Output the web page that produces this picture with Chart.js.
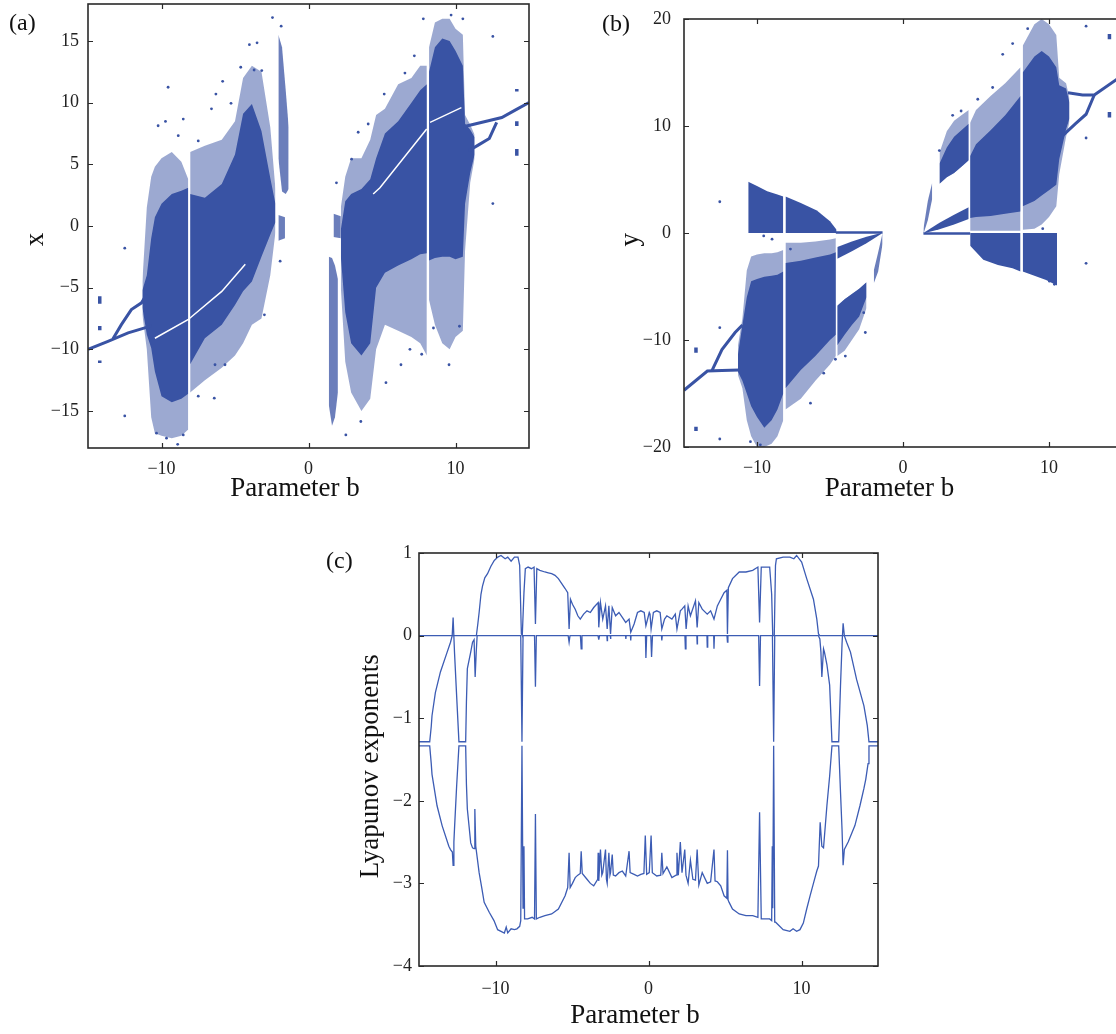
<!DOCTYPE html>
<html>
<head>
<meta charset="utf-8">
<script src="https://cdn.jsdelivr.net/npm/chart.js@4.4.0/dist/chart.umd.min.js"></script>
<style>
  html, body { margin: 0; padding: 0; background: #fff; overflow: hidden; width: 1116px; height: 1034px; }
  canvas { position: absolute; }
  .tag { position: absolute; font: 24px 'Liberation Serif', serif; line-height: 24px; color: #111; }
</style>
</head>
<body>
<canvas id="ca" width="540" height="510" style="left:0;top:0"></canvas>
<canvas id="cb" width="540" height="510" style="left:590px;top:0"></canvas>
<canvas id="cc" width="570" height="514" style="left:320px;top:520px"></canvas>
<div class="tag" style="left:9px;top:10px">(a)</div>
<div class="tag" style="left:602px;top:11px">(b)</div>
<div class="tag" style="left:326px;top:548px">(c)</div>
<script>
// tick labels
const xTicks = [-10, 0, 10];
const aYTicks = [-15, -10, -5, 0, 5, 10, 15];
const bYTicks = [-20, -10, 0, 10, 20];
const cYTicks = [-4, -3, -2, -1, 0, 1];

// ---- (a) x vs b : envelopes of the chaotic clouds (dense core / sparse halo)
const aL1B    = [-11.3, -11.0, -10.7, -10.45, -10.0, -9.3, -8.65, -8.18];
const aL1Top  = [-5.2, -4.0, -1.0, 0.7, 1.8, 2.6, 2.85, 3.1];
const aL1Bot  = [-6.6, -8.8, -9.9, -11.8, -13.8, -14.3, -14.0, -13.6];
const aL1HTop = [-4.5, 1.5, 4.0, 4.8, 5.5, 6.0, 5.2, 3.8];
const aL1HBot = [-7.2, -10.0, -15.5, -16.8, -17.0, -17.2, -17.0, -16.5];

const aL2B    = [-8.05, -7.05, -5.9, -5.0, -4.45, -3.85, -3.2, -2.6, -2.25];
const aL2Top  = [2.6, 2.3, 3.4, 5.8, 9.1, 9.9, 7.7, 3.9, 1.8];
const aL2Bot  = [-11.2, -9.1, -8.0, -6.4, -5.3, -4.5, -2.5, -0.7, 0.3];
const aL2HTop = [6.0, 6.5, 7.0, 8.5, 12.0, 13.0, 12.5, 8.0, 3.0];
const aL2HBot = [-13.5, -12.5, -11.5, -10.5, -9.5, -8.0, -7.5, -4.0, -0.5];

const aR1B    = [2.2, 2.5, 2.9, 3.6, 4.2, 4.6, 5.2, 6.1, 7.0, 7.6, 8.05];
const aR1Top  = [-0.3, 2.0, 2.6, 3.0, 3.8, 5.5, 7.5, 8.5, 10.0, 11.0, 11.5];
const aR1Bot  = [-2.5, -7.0, -9.5, -10.5, -9.5, -5.0, -3.8, -3.2, -2.7, -2.3, -2.2];
const aR1HTop = [1.5, 4.0, 5.5, 5.5, 7.0, 9.0, 9.5, 11.5, 12.0, 13.0, 13.0];
const aR1HBot = [-5.0, -11.0, -13.5, -15.0, -14.0, -10.0, -8.0, -8.5, -9.0, -9.5, -10.5];

const aR2B    = [8.2, 8.6, 9.1, 9.6, 10.0, 10.5, 10.65, 11.0, 11.3];
const aR2Top  = [12.5, 14.5, 15.2, 15.0, 14.2, 13.0, 8.3, 7.8, 7.2];
const aR2Bot  = [-2.8, -2.6, -2.5, -2.5, -2.7, -2.5, 1.8, 4.3, 5.8];
const aR2HTop = [14.5, 16.5, 16.8, 16.8, 16.0, 15.5, 9.0, 8.2, 7.4];
const aR2HBot = [-6.0, -8.0, -9.5, -10.0, -9.0, -8.5, -2.0, 3.5, 5.5];

const aStripLB = [-2.05, -1.8, -1.55, -1.35];
const aStripLTop = [15.5, 14.5, 11.0, 8.0];
const aStripLBot = [5.5, 2.8, 2.6, 3.0];
const aBlobLB = [-2.05, -1.6];
const aBlobLTop = [0.9, 0.7];
const aBlobLBot = [-1.2, -1.0];
const aStripRB = [1.38, 1.6, 1.8, 2.0];
const aStripRTop = [-2.5, -2.6, -3.2, -4.3];
const aStripRBot = [-14.5, -16.2, -15.5, -13.5];
const aBlobRB = [1.7, 2.2];
const aBlobRTop = [1.0, 0.8];
const aBlobRBot = [-0.9, -1.0];

// periodic branches
const aLineLB = [-15, -13.64, -12.27, -10.68];
const aLineLX = [-10.0, -9.35, -8.67, -8.1];
const aBrLB = [-13.3, -12.73, -12.05, -11.36, -11.02];
const aBrLX = [-9.15, -8.0, -6.78, -6.23, -5.56];
const aLineRB = [10.54, 12.24, 13.15, 14.06, 15.0];
const aLineRX = [8.05, 8.54, 8.8, 9.4, 10.0];
const aBrRB = [10.9, 11.6, 12.3, 12.8];
const aBrRX = [6.1, 6.6, 7.1, 8.4];
// thin empty diagonals inside the clouds
const aGapLB = [-10.45, -8.2, -5.9, -4.3];
const aGapLX = [-9.1, -7.6, -5.3, -3.1];
const aGapRB = [4.4, 4.86, 8.04];
const aGapRX = [2.6, 3.1, 7.86];
const aGapR2B = [8.27, 10.4];
const aGapR2X = [8.4, 9.6];
// short isolated clusters
const aIsoB = [-14.2, -14.2, -14.2, 14.17, 14.17, 14.17];
const aIsoTop = [-5.7, -8.1, -10.9, 11.1, 8.5, 6.25];
const aIsoBot = [-6.3, -8.45, -11.1, 10.9, 8.1, 5.7];
// scattered single points
const aOutB = [-12.5, -12.5, -10.23, -9.55, -9.73, -8.52, -8.86, -7.5, -6.6, -6.3, -5.84, -5.27, -4.61, -4.02, -3.5, -3.7, -3.18, -2.45, -1.86, -1.93, -3.0, -6.36, -5.68, -7.5, -6.41, -8.9, -9.66, -10.34, -8.52,
  7.81, 10.5, 9.7, 12.54, 7.2, 5.15, 3.38, 2.93, 1.9, 2.42, 2.54, 3.56, 5.27, 6.29, 6.9, 7.7, 9.56, 10.27, 8.5, 12.54, 4.06, 6.56];
const aOutX = [-1.8, -15.4, 8.13, 11.25, 8.48, 8.67, 7.32, 6.9, 9.5, 10.7, 11.73, 9.95, 12.87, 14.7, 14.85, 12.65, 12.6, 16.9, 16.2, -2.85, -7.2, -11.25, -11.25, -13.8, -13.96, -17.7, -17.2, -16.8, -16.94,
  16.8, 16.8, 17.1, 15.37, 13.8, 10.7, 7.6, 5.42, 3.5, -3.66, -16.94, -15.85, -12.7, -11.25, -10.0, -10.4, -11.25, -8.13, -8.27, 1.82, 8.27, 12.4];

// ---- (b) y vs b
const bUL1B = [-10.6, -10.0, -9.3, -8.6, -8.2];
const bUL1Top = [4.8, 4.4, 3.9, 3.6, 3.4];
const bUL1Bot = [0, 0, 0, 0, 0];
const bUL2B = [-8.05, -7.0, -5.9, -5.0, -4.55];
const bUL2Top = [3.4, 2.8, 2.1, 1.1, 0.3];
const bUL2Bot = [0, 0, 0, 0, 0];
const bLC1B = [-11.3, -11.0, -10.7, -10.4, -10.0, -9.5, -9.0, -8.6, -8.2];
const bLC1Top = [-11.3, -8.6, -6.0, -4.5, -4.3, -4.1, -4.0, -3.9, -3.6];
const bLC1Bot = [-13.0, -13.8, -15.0, -16.2, -17.2, -18.2, -17.5, -16.5, -15.0];
const bLC1HTop = [-10.5, -8.0, -3.5, -2.2, -2.0, -1.9, -1.9, -1.8, -1.6];
const bLC1HBot = [-13.3, -14.5, -17.5, -19.0, -20.0, -20.0, -19.7, -19.0, -17.5];
const bLC2B = [-8.05, -7.0, -6.0, -5.0, -4.6];
const bLC2Top = [-2.8, -2.6, -2.3, -2.0, -1.8];
const bLC2Bot = [-14.5, -12.8, -11.5, -10.0, -9.5];
const bLC2HTop = [-0.9, -0.9, -0.8, -0.6, -0.5];
const bLC2HBot = [-16.5, -15.5, -13.8, -12.3, -11.5];
const bDBLB = [-4.5, -3.5, -2.5, -1.5];
const bDBLTop = [-1.3, -0.8, -0.35, 0.0];
const bDBLBot = [-2.4, -1.7, -0.95, -0.1];
const bLLB = [-4.5, -4.0, -3.5, -3.0, -2.5];
const bLLTop = [-6.8, -6.2, -5.7, -5.2, -4.6];
const bLLBot = [-10.5, -9.5, -8.6, -7.8, -6.0];
const bLLHBot = [-11.5, -11.0, -10.0, -9.0, -7.0];
const bStLB = [-2.0, -1.7, -1.4];
const bStLTop = [-3.5, -1.8, 0.0];
const bStLBot = [-4.7, -3.6, -1.0];

const bStRB = [1.4, 1.7, 2.0];
const bStRTop = [0.4, 3.0, 4.7];
const bStRBot = [-0.1, 1.2, 3.2];
const bDBRB = [1.5, 2.5, 3.5, 4.5];
const bDBRTop = [0.1, 0.95, 1.7, 2.4];
const bDBRBot = [0.0, 0.35, 0.8, 1.3];
const bULRB = [2.5, 3.0, 3.5, 4.0, 4.5];
const bULRTop = [6.5, 8.0, 9.0, 9.6, 10.2];
const bULRBot = [4.6, 5.2, 5.6, 6.2, 6.8];
const bULRHTop = [7.5, 9.5, 10.5, 11.0, 11.5];
const bRC1B = [4.6, 5.0, 6.0, 7.0, 8.05];
const bRC1Top = [7.2, 8.3, 9.6, 11.0, 12.8];
const bRC1Bot = [1.4, 1.5, 1.6, 1.8, 2.0];
const bRC1HTop = [10.3, 11.5, 12.8, 14.0, 15.5];
const bRC1HBot = [0.2, 0.2, 0.2, 0.2, 0.2];
const bRC2B = [8.2, 9.0, 9.5, 10.0, 10.5, 10.7, 11.17, 11.4];
const bRC2Top = [15.0, 16.5, 17.0, 16.5, 15.5, 13.8, 13.5, 12.2];
const bRC2Bot = [2.5, 3.0, 3.5, 4.0, 4.5, 6.9, 9.7, 10.7];
const bRC2HTop = [17.5, 19.5, 20.0, 19.5, 18.5, 14.5, 14.0, 12.6];
const bRC2HBot = [0.3, 0.4, 0.8, 1.5, 2.5, 5.5, 9.0, 10.4];
const bLB1B = [4.6, 5.5, 6.5, 7.5, 8.05];
const bLB1Top = [0, 0, 0, 0, 0];
const bLB1Bot = [-1.2, -2.5, -3.0, -3.3, -3.6];
const bLB2B = [8.2, 9.0, 9.8, 10.55];
const bLB2Top = [0, 0, 0, 0];
const bLB2Bot = [-3.6, -4.0, -4.4, -4.9];

const bFlatLB = [-4.6, -1.4];
const bFlatLY = [0.05, 0.05];
const bFlatRB = [1.4, 4.6];
const bFlatRY = [-0.05, -0.05];
const bLineLB = [-15, -13.4, -12.4, -11.2];
const bLineLY = [-14.7, -12.9, -12.85, -12.8];
const bBrLB = [-13.1, -12.4, -11.5, -11.0];
const bBrLY = [-12.9, -10.9, -9.3, -8.6];
const bLineRB = [11.3, 12.3, 13.1, 15];
const bLineRY = [13.1, 12.9, 12.9, 14.7];
const bBrRB = [10.94, 11.8, 12.54, 13.1];
const bBrRY = [9.1, 10.2, 11.1, 12.9];
const bIsoB = [-14.18, -14.18, 14.14, 14.14];
const bIsoTop = [-10.7, -18.1, 18.6, 11.3];
const bIsoBot = [-11.2, -18.5, 18.1, 10.8];
const bOutB = [-12.55, -12.55, -12.55, -9.54, -8.97, -7.71, -10.45, -9.77, -6.34, -5.43, -4.63, -3.95, -2.69, -2.58,
  12.54, 12.54, 12.54, 8.54, 7.51, 6.83, 6.14, 5.12, 3.98, 3.4, 2.49, 9.57, 10.37, 10.03];
const bOutY = [2.92, -8.85, -19.25, -0.27, -0.58, -1.5, -19.5, -19.8, -15.9, -13.1, -11.8, -11.5, -7.45, -9.3,
  19.33, 8.88, -2.83, 19.1, 17.7, 16.7, 13.6, 12.5, 11.4, 11.0, 7.7, 0.4, -4.8, -4.5];

// ---- (c) Lyapunov exponents
const l1B = [-15, -11.25, -11.15, -11.07, -10.95, -10.85, -10.7, -10.52, -10.3, -10.08,
  -9.85, -9.64, -9.37, -9.2, -8.98, -8.76, -8.53, -8.42, -8.31, -8.25,
  -8.14, -8.05, -7.87, -7.65, -7.48, -7.39, -7.3, -7.1, -6.77, -6.55,
  -6.33, -6.11, -5.89, -5.67, -5.45, -5.28, -5.19, -5.1, -4.97, -4.79,
  -4.62, -4.46, -4.24, -4.02, -3.8, -3.58, -3.29, -3.25, -3.14, -2.99,
  -2.81, -2.7, -2.59, -2.48, -2.37, -2.15, -1.93, -1.71, -1.49, -1.27,
  -1.16, -0.94, -0.72, -0.5, -0.28, -0.17, 0.05, 0.1, 0.17, 0.32,
  0.54, 0.76, 0.87, 1.05, 1.2, 1.53, 1.75, 1.86, 2.08, 2.19,
  2.37, 2.46, 2.59, 2.74, 3.07, 3.18, 3.29, 3.51, 3.84, 4.06,
  4.28, 4.5, 4.72, 4.94, 5.12, 5.16, 5.22, 5.49, 5.93, 6.37,
  6.81, 7.15, 7.26, 7.37, 7.7, 7.92, 8.05, 8.12, 8.22, 8.3,
  8.36, 8.8, 9.24, 9.5, 9.68, 10.01, 10.34, 10.78, 11.0, 11.11,
  11.2, 15];
const l1V = [0, 0, 0.15, 0.28, 0.5, 0.6, 0.7, 0.75, 0.84, 0.91,
  0.95, 0.97, 0.93, 0.95, 0.9, 0.95, 0.95, 0.85, 0.02, 0.0,
  0.52, 0.81, 0.83, 0.81, 0.83, 0.14, 0.81, 0.79, 0.77, 0.76,
  0.75, 0.73, 0.69, 0.63, 0.57, 0.52, 0.08, 0.44, 0.38, 0.32,
  0.24, 0.2, 0.26, 0.3, 0.28, 0.34, 0.4, 0.1, 0.4, 0.2,
  0.36, 0.08, 0.36, 0.02, 0.34, 0.24, 0.28, 0.22, 0.16, 0.2,
  0.04, 0.14, 0.28, 0.3, 0.28, 0.12, 0.28, 0.26, 0.08, 0.28,
  0.3, 0.28, 0.08, 0.2, 0.24, 0.2, 0.26, 0.08, 0.3, 0.32,
  0.36, 0.08, 0.36, 0.24, 0.42, 0.1, 0.4, 0.32, 0.26, 0.3,
  0.2, 0.36, 0.44, 0.52, 0.55, 0.02, 0.58, 0.69, 0.77, 0.77,
  0.79, 0.83, 0.16, 0.83, 0.83, 0.83, 0.5, 0.0, 0.0, 0.85,
  0.93, 0.95, 0.95, 0.93, 0.97, 0.89, 0.69, 0.44, 0.2, 0.02,
  0, 0];
const l2B = [-15, -14.3, -14.2, -14.15, -13.93, -13.6, -13.16, -12.94, -12.83, -12.77,
  -12.68, -12.54, -12.39, -11.95, -11.9, -11.84, -11.62, -11.5, -11.4, -11.33,
  -11.26, -11.2, -8.35, -8.27, -8.2, -7.45, -7.39, -7.33, -5.25, -5.19,
  -5.13, -4.45, -4.4, -4.35, -3.3, -3.25, -3.2, -2.72, -2.7, -2.68,
  -2.5, -2.48, -2.46, -1.5, -1.48, -1.46, -1.18, -1.16, -1.14, -0.2,
  -0.17, -0.12, 0.15, 0.2, 0.26, 0.85, 0.87, 0.9, 2.38, 2.41,
  2.45, 3.16, 3.18, 3.2, 3.82, 3.84, 3.87, 4.26, 4.28, 4.31,
  5.13, 5.16, 5.19, 7.2, 7.26, 7.32, 8.1, 8.18, 8.25, 11.1,
  11.2, 11.27, 11.33, 11.44, 11.5, 11.66, 11.84, 11.99, 12.43, 12.55,
  12.65, 12.72, 12.8, 12.95, 13.2, 13.6, 14.08, 14.3, 14.41, 15];
const l2V = [-1.285, -1.285, -1.1, -0.97, -0.69, -0.44, -0.2, -0.08, 0.0, 0.22,
  -0.2, -0.73, -1.285, -1.285, -0.8, -0.4, -0.2, -0.08, -0.05, -0.5,
  -0.2, 0, 0, -1.285, 0, 0, -0.62, 0, 0, -0.08,
  0, 0, -0.16, 0, 0, -0.05, 0, 0, -0.06, 0,
  0, -0.04, 0, 0, -0.04, 0, 0, -0.06, 0, 0,
  -0.27, 0, 0, -0.26, 0, 0, -0.06, 0, 0, -0.16,
  0, 0, -0.1, 0, 0, -0.14, 0, 0, -0.16, 0,
  0, -0.08, 0, 0, -0.61, 0, 0, -1.285, 0, 0,
  -0.04, -0.2, -0.5, -0.16, -0.2, -0.35, -0.6, -1.285, -1.285, -0.6,
  -0.1, 0.15, 0.0, -0.08, -0.2, -0.53, -0.85, -1.09, -1.285, -1.285];
const l3B = [-15, -14.3, -14.2, -14.15, -13.82, -13.49, -13.05, -12.94, -12.82, -12.77,
  -12.72, -12.68, -12.54, -12.39, -11.95, -11.9, -11.84, -11.62, -11.5, -11.4,
  -11.35, -11.29, -11.07, -10.9, -10.74, -10.41, -10.1, -9.86, -9.64, -9.42,
  -9.3, -9.2, -8.98, -8.76, -8.6, -8.42, -8.35, -8.27, -8.2, -8.14,
  -8.1, -7.9, -7.6, -7.45, -7.39, -7.33, -7.1, -6.77, -6.33, -5.89,
  -5.45, -5.28, -5.19, -5.12, -4.97, -4.79, -4.62, -4.46, -4.4, -4.33,
  -4.02, -3.8, -3.58, -3.32, -3.29, -3.25, -3.14, -3.05, -2.99, -2.81,
  -2.75, -2.7, -2.59, -2.52, -2.48, -2.37, -2.3, -2.15, -1.93, -1.71,
  -1.49, -1.27, -1.2, -0.94, -0.72, -0.5, -0.3, -0.21, -0.12, 0.05,
  0.17, 0.25, 0.54, 0.8, 0.87, 0.95, 1.2, 1.53, 1.8, 1.86,
  1.95, 2.08, 2.19, 2.37, 2.45, 2.59, 2.74, 2.9, 3.07, 3.18,
  3.29, 3.51, 3.84, 4.06, 4.28, 4.35, 4.5, 4.72, 4.94, 5.12,
  5.16, 5.2, 5.27, 5.49, 5.93, 6.37, 6.81, 7.15, 7.26, 7.37,
  7.92, 8.05, 8.09, 8.12, 8.18, 8.25, 8.31, 8.8, 9.24, 9.45,
  9.68, 9.9, 10.12, 10.34, 10.56, 10.78, 11.0, 11.11, 11.22, 11.33,
  11.44, 11.66, 11.84, 11.99, 12.43, 12.55, 12.65, 12.72, 12.8, 13.05,
  13.49, 13.82, 14.08, 14.2, 14.35, 14.41, 15];
const l3V = [-1.335, -1.335, -1.55, -1.68, -2.06, -2.3, -2.55, -2.59, -2.62, -2.78,
  -2.5, -2.34, -1.82, -1.335, -1.335, -1.8, -2.1, -2.51, -2.57, -2.58,
  -2.1, -2.55, -2.87, -3.05, -3.23, -3.35, -3.45, -3.56, -3.58, -3.6,
  -3.53, -3.6, -3.55, -3.56, -3.55, -3.52, -3.45, -1.335, -3.3, -2.55,
  -3.43, -3.43, -3.41, -3.43, -2.16, -3.43, -3.41, -3.39, -3.37, -3.31,
  -3.15, -3.05, -2.63, -3.05, -3.0, -2.93, -2.9, -2.88, -2.61, -2.88,
  -2.95, -3.0, -3.03, -2.95, -2.63, -2.97, -2.59, -2.9, -2.87, -2.59,
  -2.95, -3.0, -2.63, -2.9, -2.87, -2.65, -2.9, -2.91, -2.87, -2.85,
  -2.91, -2.61, -2.87, -2.89, -2.91, -2.89, -2.88, -2.42, -2.89, -2.87,
  -2.42, -2.87, -2.91, -2.9, -2.63, -2.88, -2.8, -2.93, -2.9, -2.63,
  -2.9, -2.5, -2.87, -2.59, -2.9, -3.0, -2.72, -2.95, -2.96, -2.59,
  -3.02, -2.87, -3.0, -2.98, -2.59, -2.97, -2.98, -3.03, -3.15, -3.18,
  -2.6, -3.2, -3.23, -3.31, -3.37, -3.39, -3.39, -3.41, -2.14, -3.43,
  -3.43, -3.45, -2.55, -3.3, -1.335, -3.47, -3.47, -3.56, -3.58, -3.55,
  -3.58, -3.56, -3.48, -3.31, -3.15, -3.0, -2.85, -2.79, -2.26, -2.55,
  -2.57, -2.06, -1.7, -1.335, -1.335, -1.9, -2.35, -2.78, -2.59, -2.5,
  -2.3, -2.06, -1.85, -1.74, -1.55, -1.335, -1.335];

// ---- drawing helpers
const DENSE = '#3953a4';
const MID = 'rgba(57,83,164,0.75)';
const HALO = 'rgba(57,83,164,0.5)';
const LYAP = '#3c5cb4';
const serif = "'Liberation Serif', 'Times New Roman', serif";
const fmt = v => (v < 0 ? '\u2212' + Math.abs(v) : String(v));
const pad = n => '\u00a0'.repeat(n); // MATLAB labels sit a little off-centre

function pts(bs, vs) { return bs.map((b, i) => ({ x: b, y: vs[i] })); }
function band(bs, top, bot, color, order) {
  return [
    { data: pts(bs, top), fill: '+1', backgroundColor: color, borderColor: 'transparent', borderWidth: 0, pointRadius: 0, order: order },
    { data: pts(bs, bot), fill: false, borderColor: 'transparent', borderWidth: 0, pointRadius: 0, order: order }
  ];
}
function curve(bs, vs, color, width, order) {
  return { data: pts(bs, vs), fill: false, borderColor: color, borderWidth: width, pointRadius: 0, order: order };
}
function segs(bs, top, bot, width) {
  const d = [];
  bs.forEach((b, i) => { d.push({ x: b, y: top[i] }, { x: b, y: bot[i] }, { x: b, y: null }); });
  return { data: d, fill: false, borderColor: DENSE, borderWidth: width, pointRadius: 0, spanGaps: false, order: 2 };
}
function dots(bs, vs) {
  return { data: pts(bs, vs), showLine: false, pointRadius: 1.4, pointBackgroundColor: DENSE, pointBorderWidth: 0, order: 2 };
}

// box with inward ticks on all sides
const frame = {
  id: 'frame',
  afterDatasetsDraw(chart) {
    const { ctx, chartArea: a, scales: { x, y } } = chart;
    ctx.save();
    ctx.strokeStyle = '#2a2a2a';
    ctx.lineWidth = 1.2;
    ctx.beginPath();
    x.ticks.forEach(t => {
      const p = Math.round(x.getPixelForValue(t.value)) + 0.5;
      ctx.moveTo(p, a.bottom); ctx.lineTo(p, a.bottom - 5);
      ctx.moveTo(p, a.top); ctx.lineTo(p, a.top + 5);
    });
    y.ticks.forEach(t => {
      const p = Math.round(y.getPixelForValue(t.value)) + 0.5;
      ctx.moveTo(a.left, p); ctx.lineTo(a.left + 5, p);
      ctx.moveTo(a.right, p); ctx.lineTo(a.right - 5, p);
    });
    ctx.stroke();
    ctx.lineWidth = 1.6;
    ctx.strokeRect(a.left, a.top, a.right - a.left, a.bottom - a.top);
    ctx.restore();
  }
};

function options(c) {
  return {
    responsive: false,
    animation: false,
    events: [],
    layout: { padding: c.pad },
    plugins: { legend: { display: false }, tooltip: { enabled: false } },
    elements: { line: { tension: 0 } },
    scales: {
      x: {
        type: 'linear', min: -15, max: 15,
        afterBuildTicks: s => { s.ticks = xTicks.map(v => ({ value: v })); },
        afterFit: s => { s.height = c.xh; s.paddingLeft = 0; s.paddingRight = 0; },
        grid: { display: false, drawTicks: false },
        border: { display: false },
        ticks: { font: { family: serif, size: 18 }, color: '#222', padding: c.xtp, maxRotation: 0, autoSkip: false, callback: fmt },
        title: { display: true, text: 'Parameter b' + pad(4), font: { family: serif, size: 27 }, color: '#111', padding: { top: 0, bottom: c.xtb } }
      },
      y: {
        type: 'linear', min: c.ymin, max: c.ymax,
        afterBuildTicks: s => { s.ticks = c.yt.map(v => ({ value: v })); },
        afterFit: s => { s.width = c.yw; s.paddingTop = 0; s.paddingBottom = 0; },
        grid: { display: false, drawTicks: false },
        border: { display: false },
        ticks: { font: { family: serif, size: 18 }, color: '#222', padding: c.ytp, autoSkip: false, callback: fmt },
        title: { display: true, text: c.ytitle, font: { family: serif, size: 27 }, color: '#111', padding: { top: c.ytt, bottom: 0 } }
      }
    }
  };
}

// ---- (a)
const aSets = [
  ...band(aL1B, aL1HTop, aL1HBot, HALO, 9),
  ...band(aL1B, aL1Top, aL1Bot, DENSE, 7),
  ...band(aL2B, aL2HTop, aL2HBot, HALO, 9),
  ...band(aL2B, aL2Top, aL2Bot, DENSE, 7),
  ...band(aR1B, aR1HTop, aR1HBot, HALO, 9),
  ...band(aR1B, aR1Top, aR1Bot, DENSE, 7),
  ...band(aR2B, aR2HTop, aR2HBot, HALO, 9),
  ...band(aR2B, aR2Top, aR2Bot, DENSE, 7),
  ...band(aStripLB, aStripLTop, aStripLBot, MID, 7),
  ...band(aBlobLB, aBlobLTop, aBlobLBot, MID, 7),
  ...band(aStripRB, aStripRTop, aStripRBot, MID, 7),
  ...band(aBlobRB, aBlobRTop, aBlobRBot, MID, 7),
  curve(aGapLB, aGapLX, '#ffffff', 1.5, 1),
  curve(aGapRB, aGapRX, '#ffffff', 1.5, 1),
  curve(aGapR2B, aGapR2X, '#ffffff', 1.2, 1),
  curve(aLineLB, aLineLX, DENSE, 3, 3),
  curve(aBrLB, aBrLX, DENSE, 3, 3),
  curve(aLineRB, aLineRX, DENSE, 3, 3),
  curve(aBrRB, aBrRX, DENSE, 3, 3),
  segs(aIsoB, aIsoTop, aIsoBot, 3.5),
  dots(aOutB, aOutX)
];
new Chart(document.getElementById('ca'), {
  type: 'line',
  data: { datasets: aSets },
  options: options({ pad: { left: 0, top: 4, right: 11, bottom: 0 }, xh: 62, yw: 88, xtp: 10, xtb: 5, ytp: 9, ytt: 20, ymin: -18, ymax: 18, yt: aYTicks, ytitle: 'x' + pad(4) }),
  plugins: [frame]
});

// ---- (b)
const bSets = [
  ...band(bUL1B, bUL1Top, bUL1Bot, DENSE, 7),
  ...band(bUL2B, bUL2Top, bUL2Bot, DENSE, 7),
  ...band(bLC1B, bLC1HTop, bLC1HBot, HALO, 9),
  ...band(bLC1B, bLC1Top, bLC1Bot, DENSE, 7),
  ...band(bLC2B, bLC2HTop, bLC2HBot, HALO, 9),
  ...band(bLC2B, bLC2Top, bLC2Bot, DENSE, 7),
  ...band(bDBLB, bDBLTop, bDBLBot, DENSE, 7),
  ...band(bLLB, bLLTop, bLLHBot, HALO, 9),
  ...band(bLLB, bLLTop, bLLBot, DENSE, 7),
  ...band(bStLB, bStLTop, bStLBot, MID, 7),
  ...band(bStRB, bStRTop, bStRBot, MID, 7),
  ...band(bDBRB, bDBRTop, bDBRBot, DENSE, 7),
  ...band(bULRB, bULRHTop, bULRBot, HALO, 9),
  ...band(bULRB, bULRTop, bULRBot, DENSE, 7),
  ...band(bRC1B, bRC1HTop, bRC1HBot, HALO, 9),
  ...band(bRC1B, bRC1Top, bRC1Bot, DENSE, 7),
  ...band(bRC2B, bRC2HTop, bRC2HBot, HALO, 9),
  ...band(bRC2B, bRC2Top, bRC2Bot, DENSE, 7),
  ...band(bLB1B, bLB1Top, bLB1Bot, DENSE, 7),
  ...band(bLB2B, bLB2Top, bLB2Bot, DENSE, 7),
  curve(bFlatLB, bFlatLY, DENSE, 2.5, 3),
  curve(bFlatRB, bFlatRY, DENSE, 2.5, 3),
  curve(bLineLB, bLineLY, DENSE, 3, 3),
  curve(bBrLB, bBrLY, DENSE, 3, 3),
  curve(bLineRB, bLineRY, DENSE, 3, 3),
  curve(bBrRB, bBrRY, DENSE, 3, 3),
  segs(bIsoB, bIsoTop, bIsoBot, 3.5),
  dots(bOutB, bOutY)
];
new Chart(document.getElementById('cb'), {
  type: 'line',
  data: { datasets: bSets },
  options: options({ pad: { left: 0, top: 19, right: 8, bottom: 0 }, xh: 63, yw: 94, xtp: 10, xtb: 5, ytp: 13, ytt: 25, ymin: -20, ymax: 20, yt: bYTicks, ytitle: 'y' + pad(2) }),
  plugins: [frame]
});

// ---- (c)
new Chart(document.getElementById('cc'), {
  type: 'line',
  data: {
    datasets: [
      curve(l1B, l1V, LYAP, 1.3, 1),
      curve(l2B, l2V, LYAP, 1.3, 1),
      curve(l3B, l3V, LYAP, 1.3, 1)
    ]
  },
  options: options({ pad: { left: 0, top: 33, right: 12, bottom: 0 }, xh: 68, yw: 99, xtp: 12, xtb: 2, ytp: 7, ytt: 35, ymin: -4, ymax: 1, yt: cYTicks, ytitle: 'Lyapunov exponents' + pad(2) }),
  plugins: [frame]
});
</script>
</body>
</html>
